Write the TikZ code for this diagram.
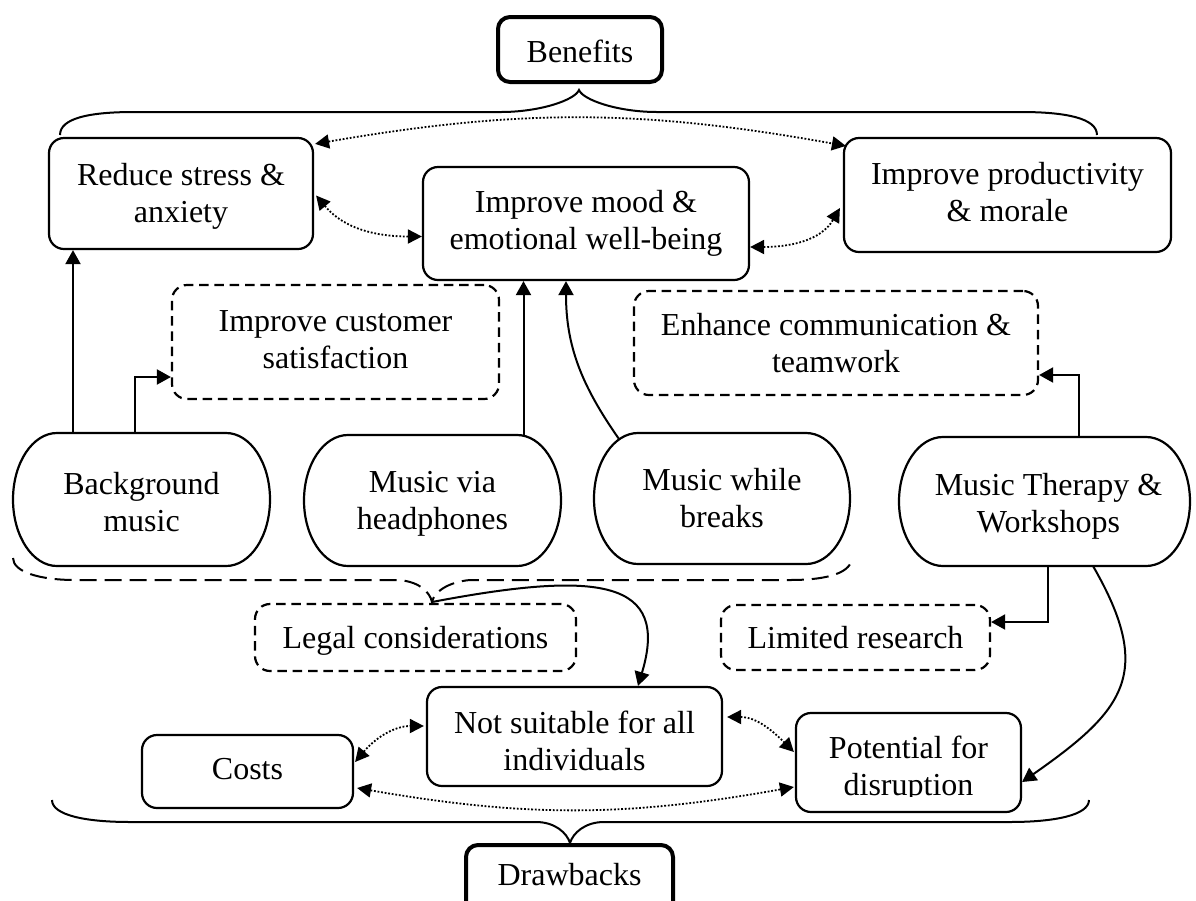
\documentclass[tikz,border=0pt]{standalone}
\usepackage{fontspec}
\setmainfont{Liberation Serif}
\usetikzlibrary{arrows.meta,calc}
\newcommand{\stadiumshape}[2]{%
  \draw[line width=1.1pt] ([xshift=22pt]#1.north west) -- ([xshift=-22pt]#1.north east)
    arc[start angle=90, end angle=-90, x radius=22pt, y radius=#2]
    -- ([xshift=22pt]#1.south west)
    arc[start angle=270, end angle=90, x radius=22pt, y radius=#2] -- cycle;}
\begin{document}
\begin{tikzpicture}[x=0.5pt,y=0.5pt,
  every node/.style={font=\fontsize{16}{18.5}\selectfont, align=center, inner sep=2pt},
  box/.style={draw, line width=1.1pt, rounded corners=7.5pt},
  dbox/.style={box, dash pattern=on 4.75pt off 2.9pt},
  tbox/.style={draw, line width=2pt, rounded corners=6pt},
  stad/.style={draw=none, outer sep=0pt},
  arr/.style={line width=1pt, -{Triangle[length=7pt,width=7.5pt]}},
  darr/.style={line width=0.9pt, dash pattern=on 0.9pt off 0.9pt, {Triangle[length=7pt,width=7pt]}-{Triangle[length=7pt,width=7pt]}},
  brace/.style={line width=1pt},
  dbrace/.style={line width=1pt, dash pattern=on 8.5pt off 4pt}
]
\useasboundingbox (0,0) rectangle (1196,-901);
\clip (0,0) rectangle (1196,-901);

% nodes
\node[tbox, minimum width=82pt, minimum height=32.5pt, label={[yshift=-0.75pt]center:Benefits}] (ben) at (580,-49.5) {};
\node[box, minimum width=132pt, minimum height=55.5pt, label={[yshift=-1.25pt]center:{Reduce stress \&\\anxiety}}] (reduce) at (181,-193.5) {};
\node[box, minimum width=163pt, minimum height=56.5pt] (mood) at (586,-223.5) {Improve mood \&\\emotional well-being};
\node[box, minimum width=163.5pt, minimum height=57pt, label={[yshift=1.25pt]center:{Improve productivity\\\& morale}}] (prod) at (1007.5,-195) {};
\node[dbox, minimum width=163.5pt, minimum height=57pt, label={[yshift=1.25pt]center:{Improve customer\\satisfaction}}] (cust) at (335.5,-342) {};
\node[dbox, minimum width=202pt, minimum height=52pt] (enh) at (836,-343) {Enhance communication \&\\teamwork};

\node[stad, minimum width=128.5pt, minimum height=66.5pt, label={[yshift=-1.5pt]center:{Background\\music}}] (bg) at (141.5,-499.5) {};
\node[stad, minimum width=128.5pt, minimum height=65.5pt, label={[yshift=-1.75pt]center:{Music via\\headphones}}] (head) at (432.5,-500.5) {};
\node[stad, minimum width=128pt, minimum height=65.5pt] (brk) at (722,-498.5) {Music while\\breaks};
\node[stad, minimum width=145.5pt, minimum height=64.5pt, label={[yshift=-2.25pt, xshift=2pt]center:{Music Therapy \&\\Workshops}}] (ther) at (1044.5,-501.5) {};
\stadiumshape{bg}{33.25pt}
\stadiumshape{head}{32.75pt}
\stadiumshape{brk}{32.75pt}
\stadiumshape{ther}{32.25pt}

\node[dbox, minimum width=160.5pt, minimum height=33.5pt, label={[yshift=-1.5pt]center:Legal considerations}] (legal) at (415.5,-637.5) {};
\node[dbox, minimum width=134.5pt, minimum height=32.5pt] (limited) at (855.5,-637.5) {Limited research};
\node[box, minimum width=147.5pt, minimum height=49.5pt, label={[yshift=-2pt]center:{Not suitable for all\\individuals}}] (notsuit) at (574.5,-736.5) {};
\node[box, minimum width=105.5pt, minimum height=36.5pt, label={[yshift=1pt]center:Costs}] (costs) at (247.5,-771.5) {};
\node[box, minimum width=112.5pt, minimum height=49.5pt] (pot) at (908.5,-762.5) {};
\begin{scope}
  \clip (pot.north west) rectangle ($(pot.south east)+(0,17)$);
  \node (pottext) at ($(pot.center)+(0,-6.5)$) {Potential for\\disruption};
\end{scope}
\node[tbox, minimum width=103.5pt, minimum height=40pt, anchor=north, text height=8pt, text depth=8pt] (drawb) at (569.5,-843) {Drawbacks};

% braces
\draw[brace] (60,-135) .. controls (60,-118) and (90,-112) .. (134,-112) -- (501,-112)
  .. controls (540,-112) and (575,-100) .. (579,-90) coordinate (btip)
  .. controls (583,-100) and (618,-112) .. (657,-112) -- (1021,-112)
  .. controls (1065,-112) and (1097,-118) .. (1097,-135);
\draw[brace] (52,-800) .. controls (52,-815) and (85,-822) .. (130,-822) -- (536,-822)
  .. controls (555,-822) and (567,-833) .. (570,-843) coordinate (dtip)
  .. controls (573,-833) and (585,-822) .. (604,-822) -- (1010,-822)
  .. controls (1055,-822) and (1089,-815) .. (1089,-800);
\draw[dbrace] (13,-558) .. controls (13,-572) and (40,-580) .. (75,-580) -- (395,-580)
  .. controls (418,-580) and (430,-592) .. (432,-602) coordinate (ltip)
  .. controls (434,-592) and (448,-582) .. (470,-580) -- (790,-580)
  .. controls (830,-580) and (852,-572) .. (852,-557);

% dotted connectors
\draw[darr] ($(reduce.north east)+(1,-7)$) to[bend left=10] ($(prod.north west)+(3,-9)$);
\draw[darr] ($(reduce.east)+(2,-2)$) to[out=-50,in=180] ($(mood.west)+(0,-13)$);
\draw[darr] ($(mood.east)+(0,-23.5)$) to[out=0,in=-120] ($(prod.west)+(-3,-13)$);
\draw[darr] ($(costs.east)+(1,9.5)$) to[out=50,in=180] ($(notsuit.west)+(-2,10.5)$);
\draw[darr] ($(costs.east)+(3,-16.5)$) to[bend right=10] ($(pot.west)+(-1,-24.5)$);
\draw[darr] ($(notsuit.east)+(4,19.5)$) to[out=0,in=135] ($(pot.west)+(-1,10.5)$);

% solid connectors
\draw[arr] ($(bg.north west)+(60,0)$) coordinate (s1) -- (s1 |- reduce.south);
\draw[arr] ($(bg.north west)+(88,0)$) -- ++(34,0) |- ($(cust.west)+(0,-35)$);
\draw[arr] ($(head.north west)+(219.5,0)$) coordinate (s2) -- (s2 |- mood.south);
\draw[arr] ($(brk.north west)+(25,-6)$) to[out=125,in=-90] ($(mood.south)+(-20,0)$);
\draw[arr] ($(ther.north)+(75.5,0)$) -- ++(-41,0) |- ($(enh.east)+(0,-32)$);
\draw[arr] ($(ther.south)+(3.5,0)$) |- ($(limited.east)+(0,15.5)$);
\draw[arr] ($(ther.south)+(48.5,0)$) to[out=-60,in=35,looseness=1.4] ($(pot.east)+(0,-19.5)$);
\draw[arr] (ltip) .. controls (600,-570) and (670,-580) .. ($(notsuit.north)+(63.5,0)$);
\end{tikzpicture}
\end{document}
